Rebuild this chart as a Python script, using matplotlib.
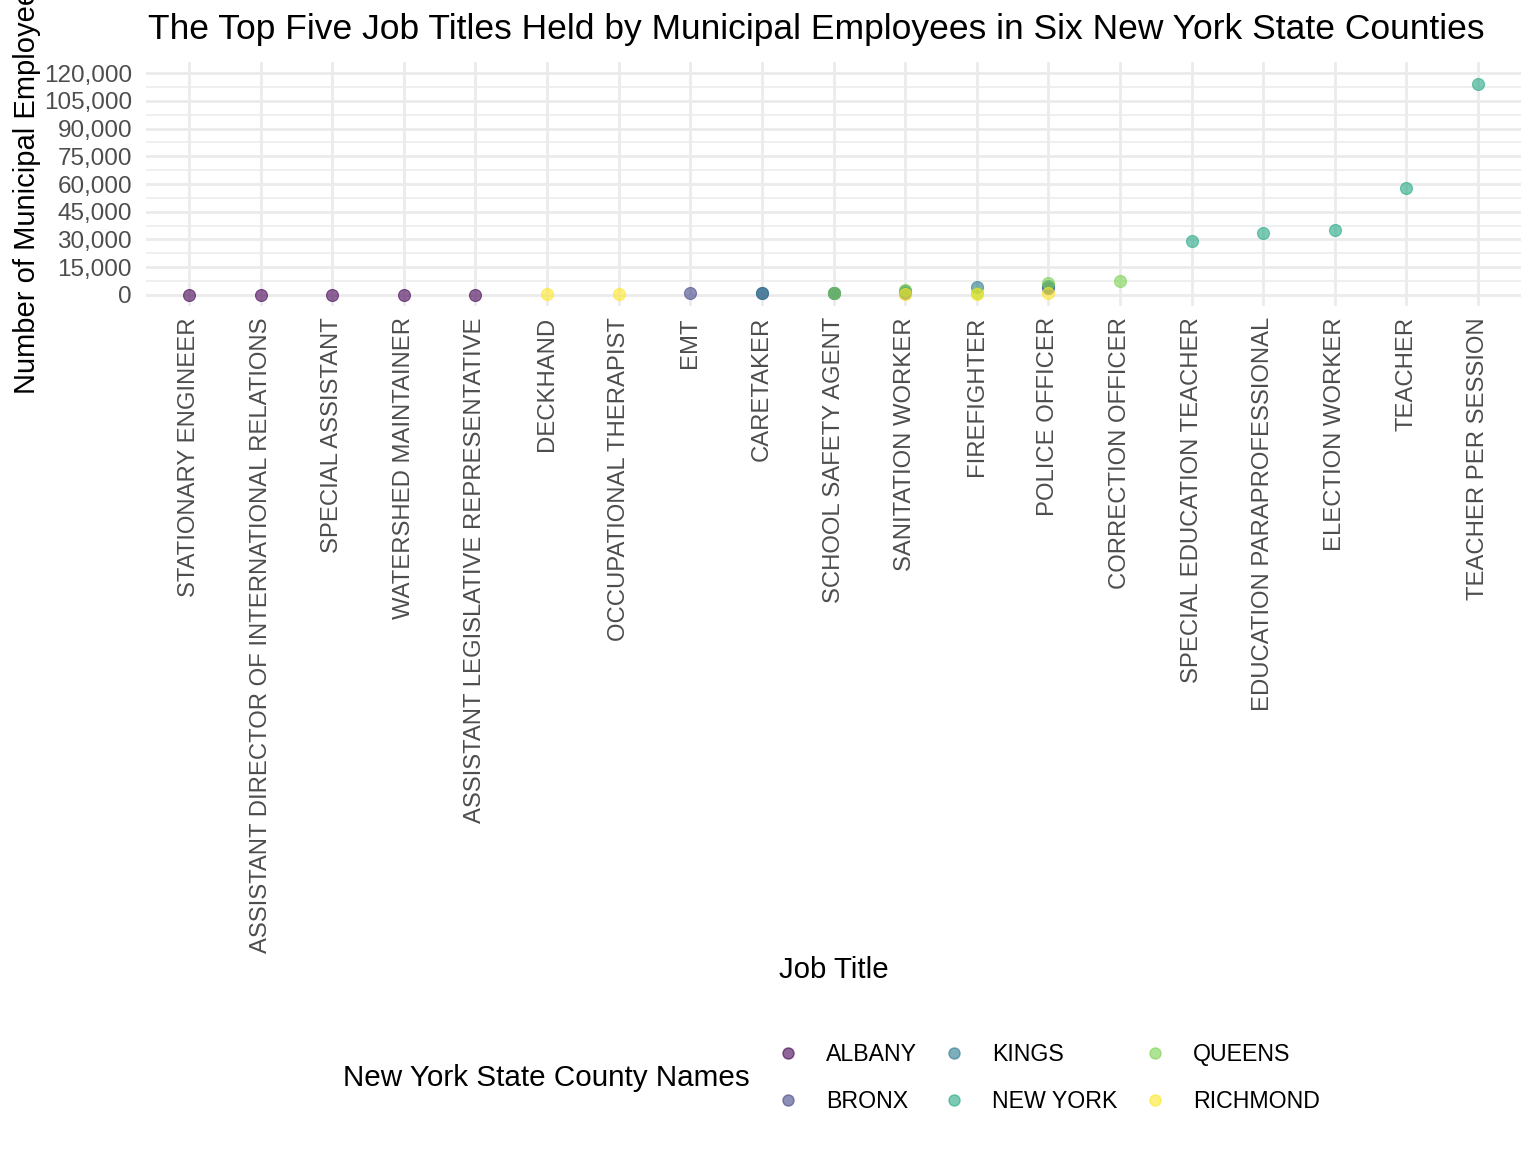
import matplotlib
matplotlib.use("Agg")
import matplotlib.pyplot as plt
from matplotlib.lines import Line2D
import numpy as np

plt.rcParams['font.family'] = ['Liberation Sans', 'DejaVu Sans']

# x-axis category order
job_titles = [
    "STATIONARY ENGINEER",
    "ASSISTANT DIRECTOR OF INTERNATIONAL RELATIONS",
    "SPECIAL ASSISTANT",
    "WATERSHED MAINTAINER",
    "ASSISTANT LEGISLATIVE REPRESENTATIVE",
    "DECKHAND",
    "OCCUPATIONAL THERAPIST",
    "EMT",
    "CARETAKER",
    "SCHOOL SAFETY AGENT",
    "SANITATION WORKER",
    "FIREFIGHTER",
    "POLICE OFFICER",
    "CORRECTION OFFICER",
    "SPECIAL EDUCATION TEACHER",
    "EDUCATION PARAPROFESSIONAL",
    "ELECTION WORKER",
    "TEACHER",
    "TEACHER PER SESSION",
]

counties = ["ALBANY", "BRONX", "KINGS", "NEW YORK", "QUEENS", "RICHMOND"]
county_colors = ["#440154", "#414487", "#2A788E", "#22A884", "#7AD151", "#FDE725"]

# top five job titles per county and employee counts
albany_titles = ["STATIONARY ENGINEER", "ASSISTANT DIRECTOR OF INTERNATIONAL RELATIONS",
                 "SPECIAL ASSISTANT", "WATERSHED MAINTAINER", "ASSISTANT LEGISLATIVE REPRESENTATIVE"]
albany_counts = [40, 30, 25, 20, 15]

bronx_titles = ["EMT", "CARETAKER", "SCHOOL SAFETY AGENT", "SANITATION WORKER", "POLICE OFFICER"]
bronx_counts = [900, 1000, 950, 1300, 4000]

kings_titles = ["CARETAKER", "SCHOOL SAFETY AGENT", "SANITATION WORKER", "FIREFIGHTER", "POLICE OFFICER"]
kings_counts = [1100, 1000, 2300, 4200, 4700]

newyork_titles = ["SPECIAL EDUCATION TEACHER", "EDUCATION PARAPROFESSIONAL", "ELECTION WORKER",
                  "TEACHER", "TEACHER PER SESSION"]
newyork_counts = [29200, 33400, 35200, 57800, 114000]

queens_titles = ["SCHOOL SAFETY AGENT", "SANITATION WORKER", "FIREFIGHTER", "POLICE OFFICER",
                 "CORRECTION OFFICER"]
queens_counts = [1100, 2700, 1000, 6200, 7600]

richmond_titles = ["DECKHAND", "OCCUPATIONAL THERAPIST", "SANITATION WORKER", "FIREFIGHTER",
                   "POLICE OFFICER"]
richmond_counts = [300, 250, 600, 700, 900]

county_titles = [albany_titles, bronx_titles, kings_titles, newyork_titles, queens_titles, richmond_titles]
county_counts = [albany_counts, bronx_counts, kings_counts, newyork_counts, queens_counts, richmond_counts]

y_ticks = list(range(0, 120001, 15000))
y_minor = list(range(7500, 120000, 15000))

W, H = 1536, 1152
fig = plt.figure(figsize=(W / 100, H / 100), dpi=100)
ax = fig.add_axes([146 / W, 1 - 306 / H, (1521 - 146) / W, (306 - 62) / H])

xpos = {t: i for i, t in enumerate(job_titles)}
alpha = 0.6
for name, col, titles, counts in zip(counties, county_colors, county_titles, county_counts):
    xs = [xpos[t] for t in titles]
    ax.scatter(xs, counts, s=75, color=col, alpha=alpha, edgecolors=col, linewidths=0.8,
               zorder=3, label=name)

ax.set_xlim(-0.6, len(job_titles) - 1 + 0.6)
ax.set_ylim(-6000, 126000)
ax.set_xticks(range(len(job_titles)))
ax.set_xticklabels(job_titles, rotation=90, fontsize=17.2, color="#4D4D4D")
ax.set_yticks(y_ticks)
ax.set_yticklabels([f"{v:,}" for v in y_ticks], fontsize=17.5, color="#4D4D4D")
ax.set_yticks(y_minor, minor=True)
ax.tick_params(axis='both', which='both', length=0)
ax.tick_params(axis='y', pad=10)
ax.tick_params(axis='x', pad=8)

ax.grid(True, which='major', color="#EBEBEB", linewidth=2.0, zorder=0)
ax.grid(True, which='minor', axis='y', color="#EBEBEB", linewidth=1.1, zorder=0)
ax.set_axisbelow(True)
for s in ax.spines.values():
    s.set_visible(False)

fig.text(148 / W, 1 - 29 / H,
         "The Top Five Job Titles Held by Municipal Employees in Six New York State Counties",
         fontsize=25.5, ha='left', va='center', color='black')
fig.text(27 / W, 1 - 184 / H, "Number of Municipal Employees", rotation=90,
         fontsize=21, ha='center', va='center')
fig.text(834 / W, 1 - 970 / H, "Job Title", fontsize=21.2, ha='center', va='center')
fig.text(343 / W, 1 - 1078 / H, "New York State County Names", fontsize=21.3,
         ha='left', va='center')

handles = [Line2D([0], [0], marker='o', linestyle='none', markersize=8,
                  markerfacecolor=c, markeredgecolor=c, alpha=alpha) for c in county_colors]
fig.legend(handles, counties, ncol=3, loc='center left',
           bbox_to_anchor=(776 / W, 1 - 1078 / H), frameon=False, fontsize=16.7,
           handlelength=1.0, handletextpad=1.15, columnspacing=1.1, labelspacing=1.05,
           borderaxespad=0, borderpad=0)

fig.savefig("out.png", dpi=100, facecolor='white')
